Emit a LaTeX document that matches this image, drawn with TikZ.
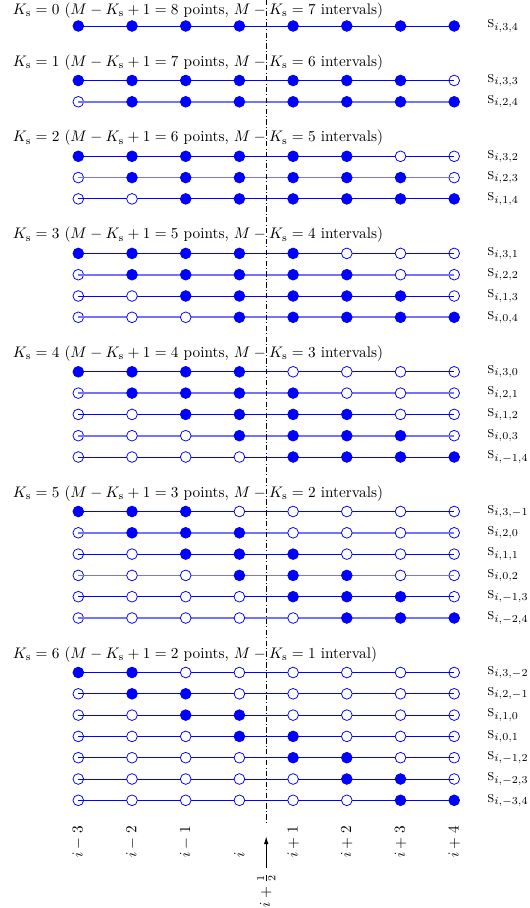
\documentclass[tikz,border=0pt]{standalone}
\usepackage{amsmath}
\usetikzlibrary{arrows.meta,backgrounds}

\tikzset{
    dot/.style={circle, draw=blue, fill=#1, line width=0.5pt, inner sep=0pt, minimum size=7pt},
    thinline/.style={blue, line width=0.6pt},
    thickline/.style={blue!55, line width=1.1pt},
    rowlabel/.style={anchor=west, inner sep=0pt},
    header/.style={anchor=base west, inner sep=0pt},
    ticklabel/.style={rotate=90, anchor=west, inner sep=0pt},
    midline/.style={black, line width=0.5pt, dash pattern=on 3.5pt off 1.5pt on 0.6pt off 1.5pt}
}

\begin{document}
\begin{tikzpicture}[x=0.654pt, y=-0.654pt]
    \useasboundingbox (0,0) rectangle (529,908);

    % Groups K_s = 0..6, one row per shifted stencil
    \foreach \K in {0,...,6}{
        \pgfmathsetmacro{\yK}{26+21.3*\K*(\K-1)/2+54.5*\K}
        \pgfmathsetmacro{\yH}{\yK-14.5+3*(\K==0)}
        \pgfmathtruncatemacro{\np}{8-\K}
        \pgfmathtruncatemacro{\ni}{7-\K}
        \node[header] (head-\K) at (12.5,\yH)
            {$K_\mathrm{s}=\K$ ($M-K_\mathrm{s}+1=\np$ points, $M-K_\mathrm{s}=\ni$ interval\ifnum\K<6 s\fi)};
        \foreach \j in {0,...,\K}{
            \pgfmathsetmacro{\y}{\yK+21.3*\j}
            \pgfmathtruncatemacro{\last}{\j+7-\K}
            \pgfmathtruncatemacro{\a}{3-\j}
            \pgfmathtruncatemacro{\b}{4-\K+\j}
            \pgfmathtruncatemacro{\thick}{(\K<6)&&(mod(\j,2)==1)}
            \foreach \k in {0,...,7}{
                \pgfmathtruncatemacro{\on}{(\k>=\j)&&(\k<=\last)}
                \ifnum\on=1 \def\fc{blue}\else \def\fc{white}\fi
                \node[dot=\fc] (p-\K-\j-\k) at ({78.3+53.7*\k},\y) {};
            }
            \begin{pgfonlayer}{background}
                \ifnum\thick=1
                    \draw[thickline] (p-\K-\j-0.center) -- (p-\K-\j-7.center);
                \else
                    \draw[thinline] (p-\K-\j-0.center) -- (p-\K-\j-7.center);
                \fi
            \end{pgfonlayer}
            % line ends show inside open end points
            \ifnum\j>0
                \ifnum\thick=1 \draw[thickline] (p-\K-\j-0.center) -- (p-\K-\j-0.east);
                \else \draw[thinline] (p-\K-\j-0.center) -- (p-\K-\j-0.east);\fi
            \fi
            \ifnum\j<\K
                \ifnum\thick=1 \draw[thickline] (p-\K-\j-7.west) -- (p-\K-\j-7.center);
                \else \draw[thinline] (p-\K-\j-7.west) -- (p-\K-\j-7.center);\fi
            \fi
            \node[rowlabel] (lab-\K-\j) at (487,\y) {$\textsc{s}_{i,\a,\b}$};
        }
    }

    % Grid indices
    \foreach \k/\t in {0/{$i-3$}, 1/{$i-2$}, 2/{$i-1$}, 3/{$i$}, 4/{$i+1$}, 5/{$i+2$}, 6/{$i+3$}, 7/{$i+4$}}
        \node[ticklabel] (tick-\k) at ({78.3+53.7*\k},858) {\t};

    % Cell face i+1/2
    \coordinate (mid-top) at (266.2,0);
    \coordinate (mid-bot) at (266.2,822);
    \coordinate (mid-tip) at (266.2,836.5);
    \node[rotate=90, anchor=east, inner sep=0pt] (half) at (266.2,873) {$i+\frac{1}{2}$};
    \draw[midline] (mid-top) -- (mid-bot);
    \draw[-{Latex[length=5pt,width=3pt]}, line width=0.5pt] (half.east) ++(0,-5) -- (mid-tip);
\end{tikzpicture}
\end{document}
